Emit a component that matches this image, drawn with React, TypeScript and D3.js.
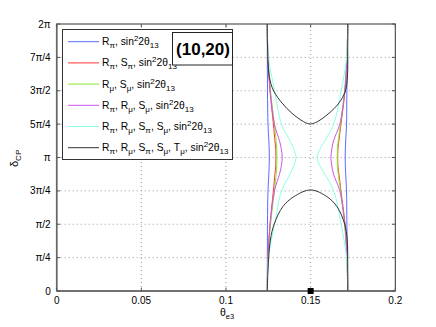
import React, { useEffect, useRef } from "react"
import * as d3 from "d3"

// axis ticks
const xTicks = [0, 0.05, 0.1, 0.15, 0.2]
const xTickLabels = ["0", "0.05", "0.1", "0.15", "0.2"]
const yTicks = [0, 0.25, 0.5, 0.75, 1, 1.25, 1.5, 1.75, 2] // in units of pi
const yTickLabels = ["0", "π/4", "π/2", "3π/4", "π", "5π/4", "3π/2", "7π/4", "2π"]

// delta_CP levels (units of pi) where the coloured contours were read
const deltaLevels = [2, 1.75, 1.5, 1.25, 1.125, 1.0625, 1, 0.9375, 0.875, 0.75, 0.5, 0.25, 0]

const blueLeft = [0.1244, 0.1244, 0.1245, 0.1248, 0.1253, 0.1255, 0.1256, 0.1255, 0.1253, 0.1248, 0.1245, 0.1244, 0.1244]
const blueRight = [0.1719, 0.1717, 0.1714, 0.1712, 0.1707, 0.1705, 0.1704, 0.1705, 0.1707, 0.1712, 0.1714, 0.1717, 0.1719]
const redLeft = [0.1244, 0.1247, 0.1260, 0.1280, 0.1289, 0.1294, 0.1295, 0.1294, 0.1289, 0.1280, 0.1260, 0.1247, 0.1244]
const redRight = [0.1719, 0.1716, 0.1703, 0.1679, 0.1667, 0.1661, 0.1660, 0.1661, 0.1667, 0.1679, 0.1703, 0.1716, 0.1719]
const greenLeft = [0.1244, 0.1248, 0.1263, 0.1286, 0.1296, 0.1300, 0.1301, 0.1300, 0.1296, 0.1286, 0.1263, 0.1248, 0.1244]
const greenRight = [0.1719, 0.1714, 0.1700, 0.1676, 0.1663, 0.1658, 0.1657, 0.1658, 0.1663, 0.1676, 0.1700, 0.1714, 0.1719]
const magentaLeft = [0.1244, 0.1248, 0.1261, 0.1286, 0.1316, 0.1327, 0.1332, 0.1327, 0.1316, 0.1286, 0.1261, 0.1248, 0.1244]
const magentaRight = [0.1719, 0.1714, 0.1702, 0.1672, 0.1635, 0.1625, 0.1620, 0.1625, 0.1635, 0.1672, 0.1702, 0.1714, 0.1719]
const cyanLeft = [0.1244, 0.1251, 0.1287, 0.1328, 0.1378, 0.1401, 0.1413, 0.1401, 0.1378, 0.1328, 0.1287, 0.1251, 0.1244]
const cyanRight = [0.1719, 0.1712, 0.1680, 0.1636, 0.1584, 0.1555, 0.1539, 0.1555, 0.1584, 0.1636, 0.1680, 0.1712, 0.1719]

// black (all observables) closed-off contours
const blackUpperX = [0.1244, 0.1245, 0.1256, 0.1282, 0.1331, 0.1390, 0.1459, 0.1499, 0.1539, 0.1608, 0.1667, 0.1705, 0.1717, 0.1719, 0.1719]
const blackUpperY = [2.0, 1.85, 1.604, 1.498, 1.408, 1.331, 1.268, 1.251, 1.268, 1.331, 1.408, 1.498, 1.604, 1.85, 2.0]
const blackLowerX = [0.1244, 0.1248, 0.1262, 0.1285, 0.1335, 0.1400, 0.1500, 0.1597, 0.1656, 0.1701, 0.1716, 0.1719, 0.1719]
const blackLowerY = [0, 0.157, 0.382, 0.502, 0.631, 0.706, 0.757, 0.706, 0.631, 0.502, 0.382, 0.157, 0]

const trueX = [0.15]
const trueY = [0]

const seriesColors = ["#5a6cff", "#ff3535", "#8ee82a", "#cc55ee", "#8cffe8", "#333333"]
const legendTerms = [
    [["R", "π"]],
    [["R", "π"], ["S", "π"]],
    [["R", "μ"], ["S", "μ"]],
    [["R", "π"], ["R", "μ"], ["S", "μ"]],
    [["R", "π"], ["R", "μ"], ["S", "π"], ["S", "μ"]],
    [["R", "π"], ["R", "μ"], ["S", "π"], ["S", "μ"], ["T", "μ"]],
]
const boxLabel = "(10,20)"

type Piece = { t: string; s: number }

function richText(sel: any, pieces: Piece[], size: number, subSize: number) {
    const off = (s: number) => (s === 1 ? 3 : s === -1 ? -4 : 0)
    sel.style("white-space", "pre")
        .selectAll("tspan")
        .data(pieces)
        .join("tspan")
        .attr("dy", (d: Piece, i: number) => off(d.s) - (i > 0 ? off(pieces[i - 1].s) : 0))
        .attr("font-size", (d: Piece) => (d.s === 0 ? size : subSize))
        .text((d: Piece) => d.t)
}

export default function App() {
    const ref = useRef<SVGSVGElement>(null)

    useEffect(() => {
        const svg = d3.select(ref.current)
        svg.selectAll("*").remove()

        const margin = { left: 56.7, right: 40.7, top: 24, bottom: 36 }
        const width = 436
        const height = 327

        const x = d3.scaleLinear().domain([0, 0.2]).range([margin.left, width - margin.right])
        const y = d3.scaleLinear().domain([0, 2]).range([height - margin.bottom, margin.top])

        const g = svg.append("g").attr("font-family", "'Liberation Sans', Arial, sans-serif")

        g.append("rect")
            .attr("x", x(0)).attr("y", y(2))
            .attr("width", x(0.2) - x(0)).attr("height", y(0) - y(2))
            .attr("fill", "#fff")

        // dotted grid
        g.append("g").selectAll("line")
            .data(xTicks.slice(1, -1))
            .join("line")
            .attr("x1", d => x(d)).attr("x2", d => x(d))
            .attr("y1", y(0)).attr("y2", y(2))
            .attr("stroke", "#9a9a9a").attr("stroke-dasharray", "1,3")
        g.append("g").selectAll("line")
            .data(yTicks.slice(1, -1))
            .join("line")
            .attr("x1", x(0)).attr("x2", x(0.2))
            .attr("y1", d => y(d)).attr("y2", d => y(d))
            .attr("stroke", "#9a9a9a").attr("stroke-dasharray", "1,3")

        // contours
        const line = d3.line<[number, number]>()
            .x(d => x(d[0]))
            .y(d => y(d[1]))
            .curve(d3.curveCatmullRom.alpha(0.5))

        const branches = [
            [blueLeft, blueRight],
            [redLeft, redRight],
            [greenLeft, greenRight],
            [magentaLeft, magentaRight],
            [cyanLeft, cyanRight],
        ]
        branches.forEach((pair, k) => {
            pair.forEach(xs => {
                g.append("path")
                    .datum(xs.map((v, i) => [v, deltaLevels[i]] as [number, number]))
                    .attr("fill", "none")
                    .attr("stroke", seriesColors[k])
                    .attr("stroke-width", 1)
                    .attr("d", line)
            })
        })
        ;[[blackUpperX, blackUpperY], [blackLowerX, blackLowerY]].forEach(([xs, ys]) => {
            g.append("path")
                .datum(xs.map((v, i) => [v, ys[i]] as [number, number]))
                .attr("fill", "none")
                .attr("stroke", seriesColors[5])
                .attr("stroke-width", 1)
                .attr("d", line)
        })

        // axes box
        g.append("rect")
            .attr("x", x(0)).attr("y", y(2))
            .attr("width", x(0.2) - x(0)).attr("height", y(0) - y(2))
            .attr("fill", "none").attr("stroke", "#333").attr("stroke-width", 1)
        g.append("line")
            .attr("x1", x(0)).attr("x2", x(0.2)).attr("y1", y(0)).attr("y2", y(0))
            .attr("stroke", "#666").attr("stroke-width", 1.6)
        g.append("line")
            .attr("x1", x(0)).attr("x2", x(0)).attr("y1", y(0)).attr("y2", y(2))
            .attr("stroke", "#666").attr("stroke-width", 1.6)

        // inward ticks on all sides
        const tl = 3.4
        xTicks.forEach(v => {
            g.append("line").attr("x1", x(v)).attr("x2", x(v)).attr("y1", y(0)).attr("y2", y(0) - tl).attr("stroke", "#555")
            g.append("line").attr("x1", x(v)).attr("x2", x(v)).attr("y1", y(2)).attr("y2", y(2) + tl).attr("stroke", "#555")
        })
        yTicks.forEach(v => {
            g.append("line").attr("x1", x(0)).attr("x2", x(0) + tl).attr("y1", y(v)).attr("y2", y(v)).attr("stroke", "#555")
            g.append("line").attr("x1", x(0.2)).attr("x2", x(0.2) - tl).attr("y1", y(v)).attr("y2", y(v)).attr("stroke", "#555")
        })

        // tick labels
        g.append("g").selectAll("text")
            .data(xTicks)
            .join("text")
            .attr("x", d => x(d)).attr("y", y(0) + 13)
            .attr("text-anchor", "middle").attr("font-size", 10)
            .text((d, i) => xTickLabels[i])
        g.append("g").selectAll("text")
            .data(yTicks)
            .join("text")
            .attr("x", x(0) - 6).attr("y", d => y(d) + 3.5)
            .attr("text-anchor", "end").attr("font-size", 10)
            .text((d, i) => yTickLabels[i])

        // axis titles
        richText(g.append("text").attr("x", 220).attr("y", 316),
            [{ t: "θ", s: 0 }, { t: "e3", s: 1 }], 10.5, 7.5)
        richText(g.append("text").attr("transform", "translate(18,167) rotate(-90)"),
            [{ t: "δ", s: 0 }, { t: "CP", s: 1 }], 11, 8)

        // true value marker
        g.append("g").selectAll("rect")
            .data(trueX)
            .join("rect")
            .attr("x", d => x(d) - 3).attr("y", (d, i) => y(trueY[i]) - 3)
            .attr("width", 6).attr("height", 6).attr("fill", "#000")

        // legend
        const lg = g.append("g")
        lg.append("rect")
            .attr("x", 62.5).attr("y", 29.5).attr("width", 170).attr("height", 130)
            .attr("fill", "#fff").attr("stroke", "#333")
        legendTerms.forEach((terms, i) => {
            const cy = 41.7 + i * 21.2
            lg.append("line")
                .attr("x1", 68).attr("x2", 99).attr("y1", cy).attr("y2", cy)
                .attr("stroke", seriesColors[i]).attr("stroke-width", 1)
            const pieces: Piece[] = []
            terms.forEach(([b, s]) => {
                pieces.push({ t: b, s: 0 }, { t: s, s: 1 }, { t: ", ", s: 0 })
            })
            pieces.push({ t: "sin", s: 0 }, { t: "2", s: -1 }, { t: "2θ", s: 0 }, { t: "13", s: 1 })
            richText(lg.append("text").attr("x", 102).attr("y", cy + 3.5), pieces, 10.3, 8)
        })

        // configuration label box
        lg.append("rect")
            .attr("x", 172.5).attr("y", 32.5).attr("width", 60).attr("height", 32.5)
            .attr("fill", "#fff").attr("stroke", "#222")
        lg.append("text")
            .attr("x", 203).attr("y", 54.5)
            .attr("text-anchor", "middle").attr("font-size", 17).attr("font-weight", "bold")
            .text(boxLabel)
    }, [])

    return (
        <svg ref={ref} width={436} height={327}
            style={{ position: "absolute", left: 0, top: 0, background: "#fff" }} />
    )
}
